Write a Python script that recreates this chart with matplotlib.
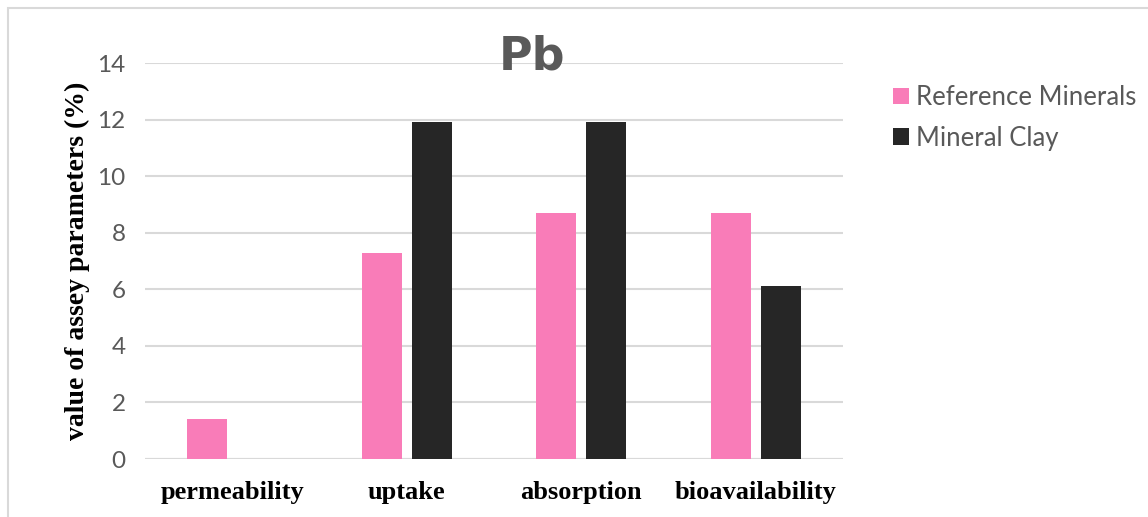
import numpy as np
import matplotlib.pyplot as plt
from matplotlib.patches import Rectangle

# Data
categories = ["permeability", "uptake", "absorption", "bioavailability"]
reference_minerals = [1.4, 7.3, 8.7, 8.7]
mineral_clay = [0, 11.9, 11.9, 6.1]
series_names = ["Reference Minerals", "Mineral Clay"]
yticks = [0, 2, 4, 6, 8, 10, 12, 14]

pink = "#f97cb8"
dark = "#262626"
grid_col = "#d9d9d9"
text_gray = "#595959"

fig = plt.figure(figsize=(11.48, 5.17), dpi=100)
ax = fig.add_axes([145 / 1148, 1 - 459 / 517, 698 / 1148, 396 / 517])

# outer frame
fig.patches.append(Rectangle((8 / 1148, -0.1), 1.2, 1 - 8 / 517 + 0.1,
                             transform=fig.transFigure, fill=False,
                             edgecolor="#d9d9d9", linewidth=1.5))

x = np.arange(len(categories))
w = 0.229
off = 0.143
ax.bar(x - off, reference_minerals, w, color=pink, label=series_names[0], zorder=3)
ax.bar(x + off, mineral_clay, w, color=dark, label=series_names[1], zorder=3)

ax.set_xlim(-0.5, len(categories) - 0.5)
ax.set_ylim(0, 14)
ax.set_yticks(yticks)
ax.yaxis.grid(True, color=grid_col, linewidth=1.5, zorder=0)
for s in ax.spines.values():
    s.set_visible(False)
ax.axhline(0, color=grid_col, linewidth=1.5, zorder=2)
ax.tick_params(axis="y", length=0, pad=14, labelsize=17.5, labelcolor=text_gray)
ax.tick_params(axis="x", length=0, pad=16)
ax.set_xticks(x)
ax.set_xticklabels(categories, fontfamily="Liberation Serif", fontweight="bold",
                   fontsize=19, color="black")
for t in ax.get_yticklabels():
    t.set_fontfamily("Lato")

ax.set_ylabel("value of assey parameters (%)", fontfamily="Liberation Serif",
              fontweight="bold", fontsize=20, color="black", labelpad=5)

fig.text(532 / 1148, 1 - 57 / 517, "Pb", ha="center", va="center",
         fontsize=33, fontweight="bold", color=text_gray, fontfamily="DejaVu Sans")

leg = fig.legend(loc="upper left", bbox_to_anchor=(870 / 1148, 1 - 62 / 517),
                 frameon=False, handlelength=0.6, handleheight=0.6,
                 handletextpad=0.3, labelspacing=0.6,
                 prop={"family": "Lato", "size": 18.5})
for t in leg.get_texts():
    t.set_color(text_gray)

fig.savefig("out.png", dpi=100)
